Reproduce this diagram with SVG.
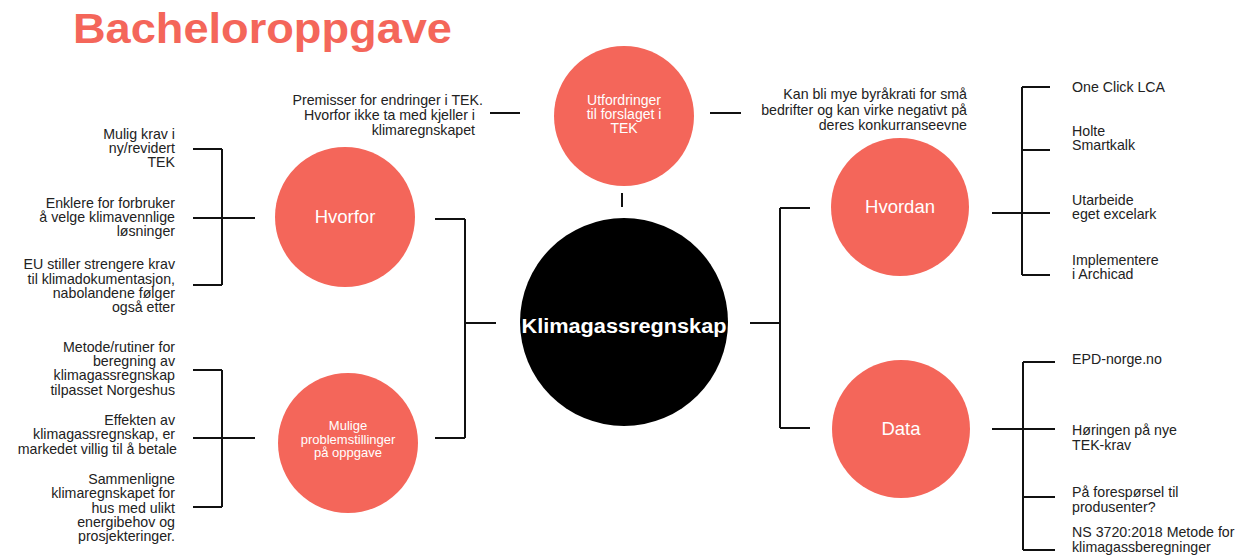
<svg xmlns="http://www.w3.org/2000/svg" width="1239" height="555" viewBox="0 0 1239 555">
<style>
.bg{fill:#ffffff}
.coral{fill:#f4665a}
.core{fill:#000000}
.lbl{font-family:"Liberation Sans",Arial,sans-serif;font-size:14.2px;fill:#222222}
.r{text-anchor:end}
.w{fill:#ffffff;text-anchor:middle;font-family:"Liberation Sans",Arial,sans-serif}
.big{font-size:18.5px}
.sm{font-size:13px}
.md{font-size:14px}
.title{font-family:"Liberation Sans",Arial,sans-serif;font-weight:bold;font-size:43px;fill:#f4665a}
.conn line{stroke:#111111;stroke-width:2;fill:none}
</style>
<rect class="bg" x="0" y="0" width="1239" height="555"/>
<text class="title" x="73" y="43" textLength="379" lengthAdjust="spacingAndGlyphs">Bacheloroppgave</text>

<g id="connectors" class="conn">
  <line x1="490" y1="113" x2="520" y2="113"/>
  <line x1="710" y1="113" x2="741" y2="113"/>
  <line x1="622" y1="193" x2="622" y2="207"/>
  <line x1="435" y1="219" x2="465" y2="219"/>
  <line x1="465" y1="219" x2="465" y2="438"/>
  <line x1="435" y1="438" x2="465" y2="438"/>
  <line x1="465" y1="323" x2="496" y2="323"/>
  <line x1="750" y1="323" x2="780" y2="323"/>
  <line x1="780" y1="208" x2="780" y2="428"/>
  <line x1="780" y1="208" x2="810" y2="208"/>
  <line x1="780" y1="428" x2="810" y2="428"/>
  <line x1="193" y1="149" x2="222" y2="149"/>
  <line x1="222" y1="149" x2="222" y2="285"/>
  <line x1="193" y1="285" x2="222" y2="285"/>
  <line x1="193" y1="218" x2="255" y2="218"/>
  <line x1="193" y1="370" x2="222" y2="370"/>
  <line x1="222" y1="370" x2="222" y2="507"/>
  <line x1="193" y1="507" x2="222" y2="507"/>
  <line x1="193" y1="438" x2="255" y2="438"/>
  <line x1="1022" y1="87" x2="1022" y2="275"/>
  <line x1="1022" y1="87" x2="1050" y2="87"/>
  <line x1="1022" y1="150" x2="1050" y2="150"/>
  <line x1="992" y1="213" x2="1050" y2="213"/>
  <line x1="1022" y1="275" x2="1050" y2="275"/>
  <line x1="1023" y1="362" x2="1023" y2="550"/>
  <line x1="1023" y1="362" x2="1055" y2="362"/>
  <line x1="992" y1="429" x2="1055" y2="429"/>
  <line x1="1023" y1="497" x2="1055" y2="497"/>
  <line x1="1023" y1="550" x2="1055" y2="550"/>
</g>

<g id="node-klimagassregnskap">
  <circle class="core" cx="624" cy="322" r="104"/>
  <text class="w" x="624" y="333" font-weight="bold" font-size="20" textLength="205" lengthAdjust="spacingAndGlyphs">Klimagassregnskap</text>
</g>

<g id="node-utfordringer">
  <circle class="coral" cx="624" cy="116" r="70"/>
  <text class="w md" x="624" y="105">Utfordringer</text>
  <text class="w md" x="624" y="119">til forslaget i</text>
  <text class="w md" x="624" y="133">TEK</text>
</g>

<g id="node-hvorfor">
  <circle class="coral" cx="345" cy="217" r="70"/>
  <text class="w big" x="345" y="223">Hvorfor</text>
</g>

<g id="node-mulige">
  <circle class="coral" cx="348" cy="443" r="70"/>
  <text class="w sm" x="348" y="430">Mulige</text>
  <text class="w sm" x="348" y="444">problemstillinger</text>
  <text class="w sm" x="348" y="457">på oppgave</text>
</g>

<g id="node-hvordan">
  <circle class="coral" cx="900" cy="207" r="69"/>
  <text class="w big" x="900" y="213">Hvordan</text>
</g>

<g id="node-data">
  <circle class="coral" cx="901" cy="429" r="69"/>
  <text class="w big" x="901" y="435">Data</text>
</g>

<g id="note-premisser">
  <text class="lbl r" x="483" y="105">Premisser for endringer i TEK.</text>
  <text class="lbl r" x="475" y="120">Hvorfor ikke ta med kjeller i</text>
  <text class="lbl r" x="475" y="135">klimaregnskapet</text>
</g>

<g id="note-byrakrati">
  <text class="lbl r" x="967" y="99">Kan bli mye byråkrati for små</text>
  <text class="lbl r" x="967" y="115">bedrifter og kan virke negativt på</text>
  <text class="lbl r" x="967" y="130">deres konkurranseevne</text>
</g>

<g id="item-mulig-krav">
  <text class="lbl r" x="175" y="139">Mulig krav i</text>
  <text class="lbl r" x="175" y="153">ny/revidert</text>
  <text class="lbl r" x="175" y="167">TEK</text>
</g>
<g id="item-enklere">
  <text class="lbl r" x="175" y="208">Enklere for forbruker</text>
  <text class="lbl r" x="175" y="222">å velge klimavennlige</text>
  <text class="lbl r" x="175" y="236">løsninger</text>
</g>
<g id="item-eu">
  <text class="lbl r" x="175" y="269">EU stiller strengere krav</text>
  <text class="lbl r" x="175" y="284">til klimadokumentasjon,</text>
  <text class="lbl r" x="175" y="298">nabolandene følger</text>
  <text class="lbl r" x="175" y="312">også etter</text>
</g>

<g id="item-metode">
  <text class="lbl r" x="175" y="352">Metode/rutiner for</text>
  <text class="lbl r" x="175" y="366">beregning av</text>
  <text class="lbl r" x="175" y="380">klimagassregnskap</text>
  <text class="lbl r" x="175" y="395">tilpasset Norgeshus</text>
</g>
<g id="item-effekten">
  <text class="lbl r" x="175" y="425">Effekten av</text>
  <text class="lbl r" x="175" y="439">klimagassregnskap, er</text>
  <text class="lbl r" x="177" y="454">markedet villig til å betale</text>
</g>
<g id="item-sammenligne">
  <text class="lbl r" x="175" y="484">Sammenligne</text>
  <text class="lbl r" x="175" y="498">klimaregnskapet for</text>
  <text class="lbl r" x="175" y="513">hus med ulikt</text>
  <text class="lbl r" x="175" y="527">energibehov og</text>
  <text class="lbl r" x="175" y="541">prosjekteringer.</text>
</g>

<g id="item-oneclick">
  <text class="lbl" x="1072" y="92">One Click LCA</text>
</g>
<g id="item-holte">
  <text class="lbl" x="1072" y="136">Holte</text>
  <text class="lbl" x="1072" y="150">Smartkalk</text>
</g>
<g id="item-utarbeide">
  <text class="lbl" x="1072" y="205">Utarbeide</text>
  <text class="lbl" x="1072" y="219">eget excelark</text>
</g>
<g id="item-implementere">
  <text class="lbl" x="1072" y="265">Implementere</text>
  <text class="lbl" x="1072" y="279">i Archicad</text>
</g>

<g id="item-epd">
  <text class="lbl" x="1072" y="364">EPD-norge.no</text>
</g>
<g id="item-horingen">
  <text class="lbl" x="1072" y="435">Høringen på nye</text>
  <text class="lbl" x="1072" y="450">TEK-krav</text>
</g>
<g id="item-foresporsel">
  <text class="lbl" x="1072" y="497">På forespørsel til</text>
  <text class="lbl" x="1072" y="512">produsenter?</text>
</g>
<g id="item-ns">
  <text class="lbl" x="1072" y="537">NS 3720:2018 Metode for</text>
  <text class="lbl" x="1072" y="552">klimagassberegninger</text>
</g>
</svg>
